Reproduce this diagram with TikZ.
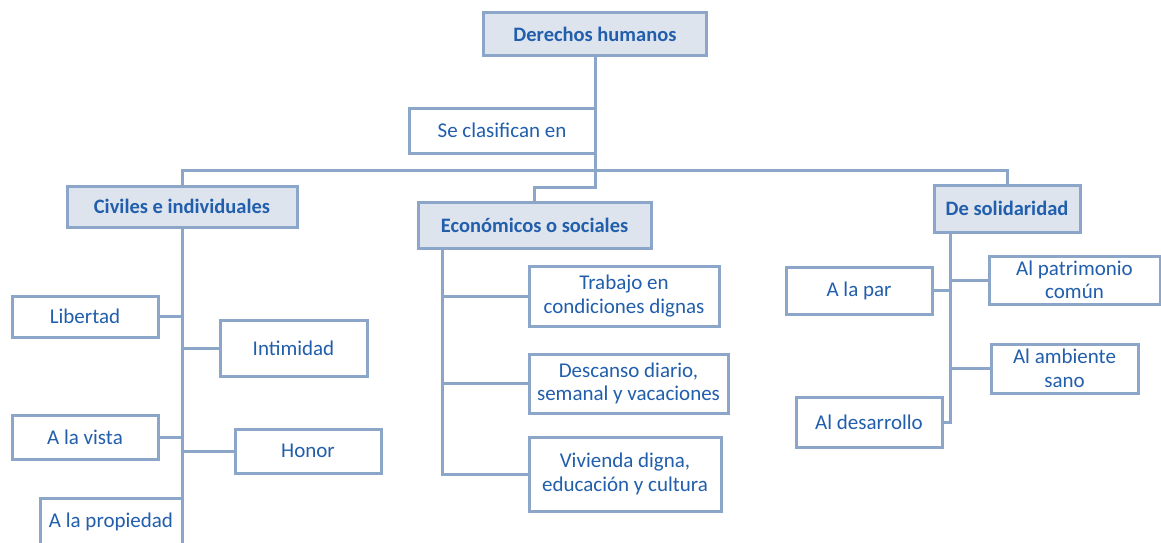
\documentclass[tikz,border=0pt]{standalone}
\usepackage{fontspec}
\setmainfont{Carlito}
\definecolor{txtblue}{RGB}{33,94,172}
\definecolor{lineblue}{RGB}{140,166,201}
\definecolor{headfill}{RGB}{221,228,238}
\tikzset{
  box/.style={draw=lineblue, line width=3pt, fill=white, text=txtblue, align=center, inner sep=2pt,
    font=\fontsize{21}{23.5}\selectfont},
  head/.style={box, fill=headfill, font=\fontsize{20.5}{23.5}\selectfont\bfseries},
  conn/.style={draw=lineblue, line width=3pt}
}
\begin{document}
\begin{tikzpicture}[x=1pt,y=-1pt]
\useasboundingbox (0,0) rectangle (1161,543);
\clip (0,0) rectangle (1161,543);
\coordinate (hub) at (595,170);
\coordinate (ecoelbow) at (595,187);
\node[head, minimum width=223pt, minimum height=43pt] (dh) at (595,34.5) {Derechos humanos};
\node[box, minimum width=186pt, minimum height=45pt] (se) at (502,130.5) {Se clasifican en};
\node[head, minimum width=230pt, minimum height=41pt] (civ) at (182,206.5) {Civiles e individuales};
\node[head, minimum width=233pt, minimum height=46pt] (eco) at (534.5,225) {Económicos o sociales};
\node[head, minimum width=146pt, minimum height=47pt] (sol) at (1007,208.5) {De solidaridad};
\coordinate (civend) at (182,560);
\coordinate (ecotop) at (442,248);
\coordinate (soltop) at (950,232);
% civiles children
\node[box, minimum width=146pt, minimum height=41pt] (lib) at (85,316.5) {Libertad};
\node[box, minimum width=147pt, minimum height=56pt] (int) at (293.5,348) {Intimidad};
\node[box, minimum width=146pt, minimum height=44pt] (vista) at (85,437) {A la vista};
\node[box, minimum width=146pt, minimum height=44pt] (hon) at (308,451) {Honor};
\node[box, minimum width=142pt, minimum height=48pt] (prop) at (111,522) {A la propiedad};
% economicos children
\node[box, minimum width=190pt, minimum height=60pt] (trab) at (624,296) {Trabajo en\\condiciones dignas};
\node[box, minimum width=199pt, minimum height=59pt] (desc) at (628.5,383.5) {Descanso diario,\\semanal y vacaciones};
\node[box, minimum width=192pt, minimum height=74pt] (viv) at (625,474) {Vivienda digna,\\educación y cultura};
% solidaridad children
\node[box, minimum width=146pt, minimum height=47pt] (par) at (859,290.5) {A la par};
\node[box, minimum width=171pt, minimum height=48pt] (pat) at (1074.5,280) {Al patrimonio\\común};
\node[box, minimum width=147pt, minimum height=49pt] (amb) at (1064.5,368.5) {Al ambiente\\sano};
\node[box, minimum width=146pt, minimum height=50pt] (des) at (869,422) {Al desarrollo};
% connectors
\draw[conn] (dh.south) -- (hub);
\draw[conn] (civ.north) |- (hub) -| (sol.north);
\draw[conn] (hub) -- (ecoelbow) -| (eco.north);
\draw[conn] (civ.south) -- (civend);
\draw[conn] (lib.east) -- (lib.east -| civend);
\draw[conn] (int.west) -- (int.west -| civend);
\draw[conn] (vista.east) -- (vista.east -| civend);
\draw[conn] (hon.west) -- (hon.west -| civend);
\draw[conn] (ecotop) |- (viv.west);
\draw[conn] (trab.west) -- (trab.west -| ecotop);
\draw[conn] (desc.west) -- (desc.west -| ecotop);
\draw[conn] (soltop) |- (des.east);
\draw[conn] (par.east) -- (par.east -| soltop);
\draw[conn] (pat.west) -- (pat.west -| soltop);
\draw[conn] (amb.west) -- (amb.west -| soltop);
\end{tikzpicture}
\end{document}
